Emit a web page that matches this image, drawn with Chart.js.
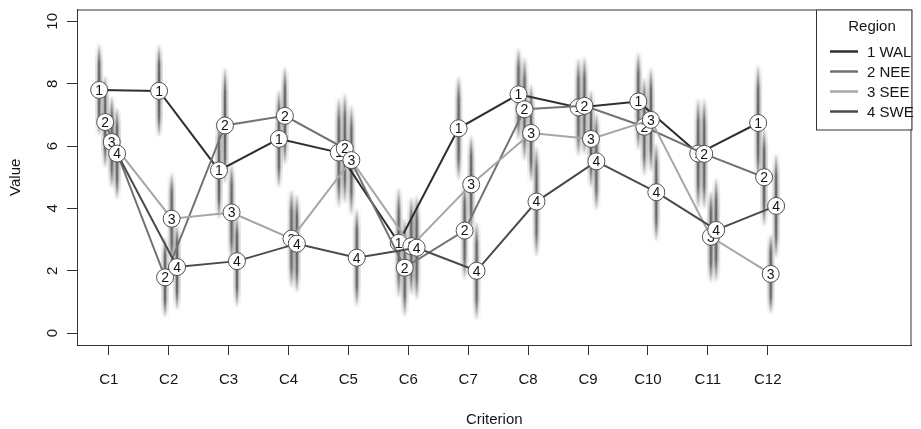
<!DOCTYPE html>
<html>
<head>
<meta charset="utf-8">
<script src="https://cdn.jsdelivr.net/npm/chart.js@4.4.1/dist/chart.umd.min.js"></script>
<style>
  html, body { margin: 0; padding: 0; background: #fff; }
  #wrap { width: 921px; height: 429px; }
</style>
</head>
<body>
<div id="wrap"><canvas id="regionChart" width="921" height="429"></canvas></div>
<script>
// values
var categories = ['C1','C2','C3','C4','C5','C6','C7','C8','C9','C10','C11','C12'];
var regions = ['1 WAL', '2 NEE', '3 SEE', '4 SWE'];
var wal = [7.80, 7.77, 5.22, 6.23, 5.79, 2.90, 6.57, 7.66, 7.24, 7.43, 5.76, 6.74];
var nee = [6.77, 1.79, 6.66, 6.97, 5.92, 2.10, 3.29, 7.18, 7.29, 6.62, 5.75, 5.00];
var see = [6.13, 3.67, 3.87, 3.03, 5.55, 2.79, 4.77, 6.42, 6.23, 6.84, 3.09, 1.90];
var swe = [5.76, 2.12, 2.31, 2.87, 2.42, 2.74, 2.00, 4.22, 5.51, 4.52, 3.31, 4.08];
// half length of the shaded vertical bars
var walSpread = [1.5, 1.5, 1.6, 1.6, 1.8, 1.8, 1.7, 1.5, 1.6, 1.6, 1.8, 1.9];
var neeSpread = [1.5, 1.3, 1.9, 1.6, 1.8, 1.6, 1.6, 1.7, 1.6, 1.6, 1.8, 1.6];
var seeSpread = [1.5, 1.5, 1.6, 1.6, 1.8, 1.6, 1.6, 1.6, 1.6, 1.7, 1.5, 1.3];
var sweSpread = [1.5, 1.4, 1.5, 1.6, 1.6, 1.7, 1.6, 1.8, 1.6, 1.6, 1.7, 1.7];
var yTicks = [0, 2, 4, 6, 8, 10];

(function(){
  var FONT = '"Liberation Sans", Arial, sans-serif';
  var INK = '#151515';
  var series = [wal, nee, see, swe];
  var spreads = [walSpread, neeSpread, seeSpread, sweSpread];
  var lineColors = ['#2e2e2e', '#727272', '#a6a6a6', '#4a4a4a'];
  var dodge = [-0.16, -0.06, 0.05, 0.14];

  var datasets = series.map(function(vals, s){
    return {
      label: regions[s],
      data: vals.map(function(v, i){ return { x: i + 1 + dodge[s], y: v }; }),
      spread: spreads[s],
      showLine: true,
      borderColor: lineColors[s],
      borderWidth: 2,
      tension: 0,
      pointRadius: 8.5,
      pointBackgroundColor: '#fff',
      pointBorderColor: '#505050',
      pointBorderWidth: 1,
      order: 4 - s,
      clip: false
    };
  });

  function shadedBar(ctx, x, top, bot){
    var g = ctx.createLinearGradient(0, top, 0, bot);
    g.addColorStop(0, 'rgba(70,70,70,0)');
    g.addColorStop(0.22, 'rgba(70,70,70,0.75)');
    g.addColorStop(0.5, 'rgba(70,70,70,0.85)');
    g.addColorStop(0.78, 'rgba(70,70,70,0.75)');
    g.addColorStop(1, 'rgba(70,70,70,0)');
    ctx.fillStyle = g;
    ctx.globalAlpha = 0.22; ctx.fillRect(x - 4, top, 8, bot - top);
    ctx.globalAlpha = 0.4;  ctx.fillRect(x - 2.2, top, 4.4, bot - top);
    ctx.globalAlpha = 0.85; ctx.fillRect(x - 1, top, 2, bot - top);
    ctx.globalAlpha = 1;
  }

  var decor = {
    id: 'decor',
    beforeDatasetsDraw: function(chart){
      var ctx = chart.ctx, ys = chart.scales.y, a = chart.chartArea;
      ctx.save();
      ctx.beginPath(); ctx.rect(a.left, a.top, a.right - a.left, a.bottom - a.top); ctx.clip();
      chart.data.datasets.forEach(function(ds, s){
        var meta = chart.getDatasetMeta(s);
        meta.data.forEach(function(pt, i){
          var v = ds.data[i].y, sp = ds.spread[i];
          shadedBar(ctx, pt.x, ys.getPixelForValue(v + sp), ys.getPixelForValue(v - sp));
        });
      });
      ctx.restore();
    },
    afterDatasetDraw: function(chart, args){
      var ctx = chart.ctx;
      ctx.save();
      ctx.fillStyle = INK;
      ctx.font = '14px ' + FONT;
      ctx.textAlign = 'center';
      ctx.textBaseline = 'middle';
      args.meta.data.forEach(function(pt){
        ctx.fillText(String(args.index + 1), pt.x, pt.y + 1);
      });
      ctx.restore();
    },
    afterDraw: function(chart){
      var ctx = chart.ctx, a = chart.chartArea, ys = chart.scales.y;
      ctx.save();
      // box
      ctx.strokeStyle = '#333'; ctx.lineWidth = 1;
      ctx.strokeRect(a.left + 0.5, a.top + 0.5, a.right - a.left - 1, a.bottom - a.top);
      // y tick labels, rotated like R
      ctx.fillStyle = INK;
      ctx.font = '15px ' + FONT;
      ctx.textAlign = 'center';
      ctx.textBaseline = 'middle';
      yTicks.forEach(function(t){
        ctx.save();
        ctx.translate(53, ys.getPixelForValue(t));
        ctx.rotate(-Math.PI / 2);
        ctx.fillText(String(t), 0, 0);
        ctx.restore();
      });
      // legend
      var lx = 816, ly = a.top, lw = a.right - lx, lh = 120;
      ctx.fillStyle = '#fff';
      ctx.fillRect(lx, ly, lw, lh);
      ctx.strokeRect(lx + 0.5, ly + 0.5, lw, lh);
      ctx.fillStyle = INK;
      ctx.fillText('Region', 872, ly + 17);
      ctx.textAlign = 'left';
      chart.data.datasets.forEach(function(ds, s){
        var yy = ly + 42 + s * 20;
        ctx.strokeStyle = ds.borderColor; ctx.lineWidth = 2.5;
        ctx.beginPath(); ctx.moveTo(830, yy); ctx.lineTo(858, yy); ctx.stroke();
        ctx.fillStyle = INK;
        ctx.fillText(ds.label, 867, yy + 1);
      });
      ctx.restore();
    }
  };

  function init(){
    if (typeof Chart === 'undefined') return;
    var ctx = document.getElementById('regionChart').getContext('2d');
    new Chart(ctx, {
      type: 'scatter',
      data: { datasets: datasets },
      options: {
        responsive: false,
        animation: false,
        layout: { padding: { top: 6, right: 1, left: 0, bottom: 0 } },
        plugins: { legend: { display: false }, tooltip: { enabled: false } },
        scales: {
          x: {
            type: 'linear', min: 0.47, max: 14.4,
            afterBuildTicks: function(sc){ sc.ticks = categories.map(function(c, i){ return { value: i + 1 }; }); },
            afterFit: function(sc){ sc.height = 84; },
            ticks: {
              autoSkip: false, maxRotation: 0, minRotation: 0, padding: 16,
              color: INK, font: { family: FONT, size: 15 },
              callback: function(v){ return categories[Math.round(v) - 1] || ''; }
            },
            grid: { drawOnChartArea: false, drawTicks: true, tickLength: 10, color: '#333', tickColor: '#333' },
            border: { display: true, color: '#333', width: 1 },
            title: { display: true, text: 'Criterion', color: INK, font: { family: FONT, size: 15 }, padding: { top: 0, bottom: 0 } }
          },
          y: {
            type: 'linear', min: -0.38, max: 10.38,
            afterBuildTicks: function(sc){ sc.ticks = yTicks.map(function(t){ return { value: t }; }); },
            afterFit: function(sc){ sc.width = 77; },
            ticks: { display: false },
            grid: { drawOnChartArea: false, drawTicks: true, tickLength: 10, color: '#333', tickColor: '#333' },
            border: { display: true, color: '#333', width: 1 },
            title: { display: true, text: 'Value', color: INK, font: { family: FONT, size: 15 }, padding: { top: 7, bottom: 0 } }
          }
        }
      },
      plugins: [decor]
    });
  }
  if (document.readyState === 'loading') document.addEventListener('DOMContentLoaded', init); else init();
})();
</script>
</body>
</html>
